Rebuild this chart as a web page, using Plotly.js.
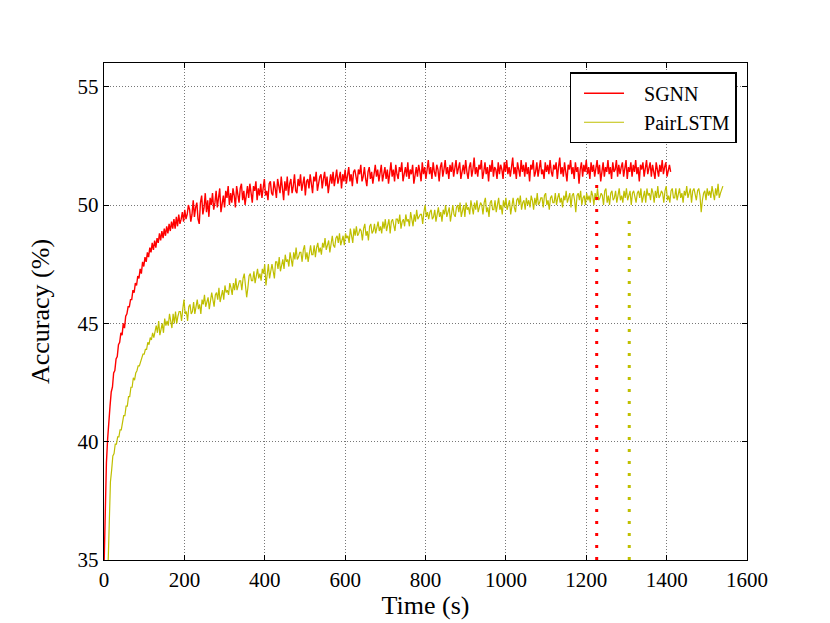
<!DOCTYPE html>
<html>
<head>
<meta charset="utf-8">
<script src="https://cdn.plot.ly/plotly-3.0.1.min.js"></script>
<style>
  body { margin: 0; background: #fff; }
  #chart { width: 830px; height: 623px; }
</style>
</head>
<body>
<div id="chart"></div>
<script>
var sgnnStart = 0, sgnnStep = 3;
var sgnnAcc = [
  34.6, 37.4, 39.1, 40.1, 41.1, 41.5, 42.1, 42.3, 42.9, 43.0,
  43.5, 43.6, 44.1, 44.2, 44.6, 44.5, 45.0, 44.8, 45.3, 45.4,
  45.7, 45.7, 46.0, 46.0, 46.4, 46.3, 46.7, 46.6, 47.0, 46.9,
  47.3, 47.1, 47.6, 47.4, 47.8, 47.6, 48.0, 47.8, 48.2, 48.0,
  48.4, 48.1, 48.5, 48.2, 48.6, 48.4, 48.8, 48.5, 48.9, 48.6,
  49.0, 48.7, 49.1, 48.8, 49.2, 48.9, 49.3, 49.0, 49.4, 49.0,
  49.5, 49.1, 49.6, 49.2, 49.4, 49.7, 49.3, 49.8, 49.4, 49.6,
  50.0, 49.8, 49.3, 49.6, 50.2, 49.5, 49.9, 50.1, 49.4, 49.2,
  50.1, 50.4, 49.6, 49.9, 50.5, 49.7, 50.2, 49.5, 50.3, 50.0,
  50.5, 49.8, 50.1, 50.6, 49.9, 50.3, 50.7, 49.7, 50.2, 50.4,
  49.9, 50.6, 50.3, 50.8, 50.0, 50.5, 50.1, 50.7, 50.4, 49.9,
  50.8, 50.3, 50.1, 50.7, 50.9, 50.2, 50.6, 50.0, 50.5, 50.8,
  50.3, 50.9, 50.5, 50.1, 50.8, 50.6, 51.0, 50.2, 50.7, 50.4,
  50.9, 50.3, 50.7, 51.1, 50.4, 50.6, 50.2, 50.9, 51.0, 50.5,
  50.4, 51.0, 50.7, 50.3, 51.1, 50.8, 50.5, 51.2, 50.6, 50.2,
  51.0, 50.6, 51.2, 50.4, 50.9, 51.1, 50.5, 50.8, 51.3, 50.6,
  50.5, 51.1, 50.8, 51.3, 50.6, 50.9, 51.2, 50.4, 51.0, 51.1,
  50.7, 51.3, 50.9, 50.5, 51.2, 51.0, 51.4, 50.6, 50.9, 51.2,
  51.3, 50.7, 51.1, 51.4, 50.8, 51.2, 50.5, 51.0, 51.3, 50.9,
  51.4, 50.8, 51.2, 51.5, 50.9, 51.1, 51.4, 50.7, 51.3, 51.0,
  51.5, 50.9, 51.2, 51.6, 51.0, 51.3, 50.8, 51.4, 51.5, 51.1,
  50.9, 51.5, 51.3, 51.7, 51.0, 51.2, 51.6, 51.1, 50.8, 51.4,
  51.6, 51.1, 51.4, 50.9, 51.3, 51.7, 51.2, 51.5, 51.0, 51.3,
  51.7, 51.0, 51.4, 51.6, 51.1, 51.5, 50.9, 51.3, 51.8, 51.2,
  51.5, 51.0, 51.7, 51.3, 51.1, 51.6, 51.4, 51.8, 51.0, 51.3,
  51.6, 51.2, 51.8, 51.1, 51.5, 51.3, 51.7, 50.9, 51.4, 51.6,
  51.2, 51.7, 51.4, 51.0, 51.8, 51.3, 51.6, 51.1, 51.5, 51.9,
  51.3, 51.6, 51.1, 51.8, 51.4, 51.2, 51.7, 51.5, 51.0, 51.6,
  51.8, 51.2, 51.5, 51.9, 51.3, 51.6, 51.1, 51.7, 51.4, 51.8,
  51.2, 51.6, 51.9, 51.3, 51.5, 51.8, 51.1, 51.4, 51.7, 51.3,
  51.9, 51.4, 51.1, 51.6, 51.8, 51.2, 51.5, 52.0, 51.3, 51.6,
  51.2, 51.7, 51.5, 51.9, 51.1, 51.4, 51.8, 51.3, 51.6, 51.0,
  51.7, 51.4, 51.9, 51.2, 51.6, 51.5, 51.1, 51.8, 51.3, 51.7,
  51.5, 51.1, 51.8, 51.4, 51.9, 51.3, 51.6, 51.2, 51.7, 52.0,
  51.3, 51.6, 51.1, 51.8, 51.5, 51.2, 51.9, 51.4, 51.7, 51.2,
  51.8, 51.3, 51.6, 51.0, 51.7, 51.5, 51.9, 51.2, 51.4, 51.8,
  51.2, 51.6, 51.9, 51.3, 51.5, 51.1, 51.8, 51.4, 51.7, 51.3,
  51.9, 51.4, 51.2, 51.7, 51.5, 51.8, 51.1, 51.6, 52.0, 51.3,
  51.6, 51.2, 51.8, 51.4, 51.0, 51.7, 51.5, 51.9, 51.3, 51.6,
  51.1, 51.8, 51.4, 51.6, 50.9, 51.5, 51.8, 51.2, 51.7, 51.4,
  51.9, 51.3, 51.6, 51.1, 51.8, 51.4, 51.7, 51.2, 51.5, 51.9,
  51.3, 51.7, 51.0, 51.5, 51.8, 51.2, 51.6, 51.4, 51.9, 51.3,
  51.6, 51.1, 51.8, 51.4, 51.5, 51.9, 51.2, 51.7, 51.3, 51.6,
  51.8, 51.2, 51.5, 51.9, 51.1, 51.6, 51.4, 51.8, 51.2, 51.7,
  51.4, 51.9, 51.3, 51.6, 51.0, 51.7, 51.5, 51.8, 51.2, 51.6,
  51.9, 51.3, 51.5, 51.8, 51.2, 51.7, 51.4, 51.1, 51.8, 51.5,
  51.2, 51.7, 51.4, 51.9, 51.3, 51.6, 51.8, 51.2, 51.5, 51.7,
  51.4
];

var lstmStart = 10, lstmStep = 3;
var lstmAcc = [
  34.7, 37.2, 38.3, 38.8, 39.4, 39.5, 39.9, 39.9, 40.2, 40.2,
  40.5, 40.5, 40.8, 41.1, 41.1, 41.5, 41.5, 41.9, 41.9, 42.3,
  42.3, 42.7, 42.6, 42.9, 43.0, 43.2, 43.2, 43.4, 43.5, 43.7,
  43.7, 43.9, 43.9, 44.2, 44.1, 44.4, 44.3, 44.6, 44.4, 44.7,
  44.9, 44.6, 45.1, 44.5, 44.8, 45.0, 44.6, 45.2, 44.9, 45.1,
  44.9, 45.4, 45.1, 44.8, 45.4, 45.0, 45.5, 45.0, 45.3, 45.5,
  45.5, 45.1, 45.6, 46.0, 45.4, 45.5, 45.1, 45.7, 45.8, 45.4,
  45.5, 45.9, 45.4, 45.8, 46.0, 45.6, 45.8, 45.4, 46.0, 45.8,
  46.2, 45.7, 45.9, 46.1, 45.6, 46.0, 46.3, 46.0, 45.7, 46.2,
  46.3, 46.0, 46.5, 45.9, 46.2, 46.4, 46.0, 46.6, 46.3, 46.4,
  46.2, 46.7, 46.5, 46.2, 46.7, 46.4, 46.9, 46.4, 46.6, 46.8,
  46.8, 46.4, 46.9, 47.1, 46.6, 46.1, 46.5, 47.0, 47.1, 46.8,
  46.8, 47.2, 46.7, 47.1, 47.3, 46.9, 47.1, 46.8, 47.3, 47.1,
  47.5, 46.6, 47.2, 47.5, 46.9, 47.3, 47.5, 47.2, 46.9, 47.6,
  47.6, 47.3, 47.8, 47.2, 47.5, 47.7, 47.3, 47.9, 47.6, 47.7,
  47.4, 48.0, 47.7, 47.4, 48.0, 47.7, 48.2, 47.7, 47.8, 48.0,
  48.0, 47.6, 48.1, 48.3, 47.7, 48.0, 47.6, 48.1, 48.3, 47.9,
  47.9, 48.3, 47.8, 48.2, 48.4, 48.0, 48.2, 47.9, 48.4, 48.2,
  48.6, 48.1, 48.3, 48.5, 48.0, 48.5, 48.7, 48.3, 48.2, 48.6,
  48.7, 48.4, 48.8, 48.3, 48.5, 48.7, 48.3, 48.8, 48.6, 48.7,
  48.4, 49.0, 48.7, 48.4, 49.0, 48.7, 49.1, 48.7, 48.8, 49.0,
  48.9, 48.5, 49.0, 49.2, 48.7, 48.9, 48.5, 49.1, 49.2, 48.8,
  48.9, 49.2, 48.8, 49.1, 49.3, 48.9, 49.1, 48.8, 49.3, 49.0,
  49.4, 48.9, 49.1, 49.4, 48.8, 49.3, 49.4, 49.1, 48.9, 49.4,
  49.4, 49.2, 49.6, 49.0, 49.3, 49.4, 49.1, 49.6, 49.3, 49.4,
  49.1, 49.7, 49.4, 49.1, 49.6, 49.3, 49.8, 49.4, 49.5, 49.6,
  49.6, 49.2, 49.7, 50.0, 49.5, 49.7, 49.4, 49.7, 49.8, 49.4,
  49.5, 49.8, 49.3, 49.7, 49.9, 49.5, 49.7, 49.3, 49.8, 49.6,
  50.0, 49.5, 49.7, 49.9, 49.3, 49.8, 50.0, 49.6, 49.5, 49.9,
  50.0, 49.7, 50.1, 49.5, 49.8, 50.0, 49.5, 50.1, 49.8, 49.9,
  49.6, 50.2, 49.9, 49.6, 50.1, 49.8, 50.2, 49.7, 49.9, 50.1,
  50.0, 49.6, 50.1, 50.3, 49.7, 49.9, 49.5, 50.1, 50.2, 49.8,
  49.8, 50.2, 49.7, 50.1, 50.3, 49.8, 50.0, 49.6, 50.2, 49.9,
  50.3, 49.8, 50.0, 50.2, 49.6, 50.1, 50.3, 49.9, 49.7, 50.2,
  50.3, 50.0, 50.4, 49.8, 50.1, 50.2, 49.8, 50.3, 50.0, 50.2,
  49.9, 50.4, 50.2, 49.8, 50.3, 50.0, 50.5, 50.0, 50.1, 50.3,
  50.3, 49.9, 50.4, 50.5, 50.0, 50.2, 49.8, 50.3, 50.4, 50.1,
  50.1, 50.5, 50.0, 50.3, 50.5, 50.1, 50.3, 49.9, 50.4, 50.2,
  50.6, 50.1, 50.3, 50.5, 49.9, 50.4, 50.5, 50.2, 49.7, 50.4,
  50.5, 50.2, 50.6, 50.0, 50.3, 50.4, 50.0, 50.5, 50.2, 50.4,
  50.1, 50.6, 50.4, 50.0, 50.5, 50.2, 50.7, 50.2, 50.3, 50.5,
  50.4, 50.0, 50.6, 50.7, 50.1, 50.4, 50.0, 50.5, 50.6, 50.2,
  50.3, 50.6, 50.1, 50.5, 50.7, 50.2, 50.4, 50.1, 50.6, 50.3,
  50.7, 50.2, 50.4, 50.6, 50.0, 50.5, 50.6, 50.3, 50.1, 50.5,
  50.6, 50.3, 50.7, 50.1, 50.4, 50.6, 50.1, 50.7, 50.4, 50.5,
  50.2, 50.7, 50.5, 50.1, 50.6, 50.3, 50.8, 50.3, 50.4, 50.6,
  50.5, 50.1, 50.6, 50.8, 50.2, 50.4, 50.1, 50.6, 50.7, 50.3,
  50.3, 50.7, 50.2, 50.5, 50.7, 50.3, 50.5, 50.1, 50.6, 50.4,
  50.8, 50.3, 50.5, 50.7, 50.1, 50.6, 50.7, 50.4, 50.2, 50.6,
  50.7, 50.4, 49.7, 50.2, 50.5, 50.6, 50.2, 50.7, 50.4, 50.6,
  50.3, 50.8, 50.5, 50.2, 50.7, 50.4, 50.9, 50.3, 50.5, 50.7,
  50.8
];

// dotted markers: time each model first reaches its plateau
var markTimes = [1226, 1307];
var markTops = [51.0, 49.5];
var names = ['SGNN', 'PairLSTM'];
var colors = ['#ff0000', '#bfbf00'];

var serif = 'Liberation Serif, Times New Roman, serif';
var pad = '\u00a0\u00a0\u00a0';

var traces = [
  {
    y: sgnnAcc, x0: sgnnStart, dx: sgnnStep,
    mode: 'lines', type: 'scatter', name: pad + names[0],
    line: {color: colors[0], width: 1.4}
  },
  {
    y: lstmAcc, x0: lstmStart, dx: lstmStep,
    mode: 'lines', type: 'scatter', name: pad + names[1],
    line: {color: colors[1], width: 1.2}
  }
];

for (var i = 0; i < markTimes.length; i++) {
  traces.push({
    x: [markTimes[i], markTimes[i]],
    y: [35, markTops[i]],
    mode: 'lines', type: 'scatter', showlegend: false, hoverinfo: 'skip',
    line: {color: colors[i], width: 3, dash: '3px,9px'}
  });
}

var axisCommon = {
  showline: true, linecolor: '#000', linewidth: 1.3, mirror: 'allticks',
  ticks: 'inside', ticklen: 5, tickcolor: '#000', tickwidth: 1,
  showgrid: true, gridcolor: '#777', gridwidth: 1, griddash: '1px,2px',
  zeroline: false,
  tickfont: {family: serif, size: 21, color: '#000'}
};

var layout = {
  width: 830, height: 623,
  margin: {l: 104, r: 83, t: 63, b: 63},
  paper_bgcolor: '#fff', plot_bgcolor: '#fff',
  font: {family: serif, color: '#000'},
  xaxis: Object.assign({}, axisCommon, {
    range: [0, 1600], dtick: 200, tick0: 0,
    title: {text: 'Time (s)', font: {family: serif, size: 26}, standoff: 0}
  }),
  yaxis: Object.assign({}, axisCommon, {
    range: [35, 56], dtick: 5, tick0: 35,
    title: {text: 'Accuracy (%)', font: {family: serif, size: 26}, standoff: 20}
  }),
  legend: {
    x: 0.984, y: 0.981, xanchor: 'right', yanchor: 'top',
    bgcolor: '#fff', bordercolor: '#000', borderwidth: 1.3,
    font: {family: serif, size: 20, color: '#000'},
    itemwidth: 40, indentation: 8
  },
  showlegend: true
};

Plotly.newPlot('chart', traces, layout, {staticPlot: true, displayModeBar: false});
</script>
</body>
</html>
